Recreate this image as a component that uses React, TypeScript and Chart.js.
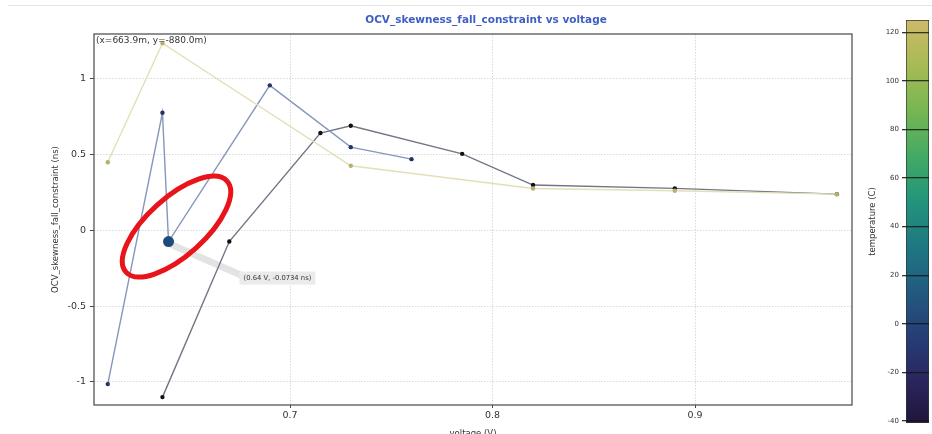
import React, { useEffect, useRef } from 'react';
import { Chart, registerables } from 'chart.js';

Chart.register(...registerables);

// ---------- data ----------
const titleText = 'OCV_skewness_fall_constraint vs voltage';
const xTitle = 'voltage (V)';
const yTitle = 'OCV_skewness_fall_constraint (ns)';
const cbTitle = 'temperature (C)';
const cursorText = '(x=663.9m, y=-880.0m)';

const xTicks = [0.7, 0.8, 0.9];
const yTicks = [-1, -0.5, 0, 0.5, 1];
const cbTicks = [-40, -20, 0, 20, 40, 60, 80, 100, 120];
const xRange = [0.6032, 0.9775];
const yRange = [-1.152, 1.297];
const cbRange = [-40.8, 125];

// hot corner (yellow)
const hotV = [0.61, 0.637, 0.73, 0.82, 0.89, 0.97];
const hotY = [0.45, 1.236, 0.427, 0.277, 0.262, 0.24];
// mid (blue)
const midV = [0.61, 0.637, 0.64, 0.69, 0.73, 0.76];
const midY = [-1.014, 0.777, -0.0734, 0.958, 0.55, 0.471];
// cold (dark)
const coldV = [0.637, 0.67, 0.715, 0.73, 0.785, 0.82, 0.89, 0.97];
const coldY = [-1.1, -0.073, 0.643, 0.691, 0.506, 0.3, 0.278, 0.24];
// selected point
const selV = [0.64];
const selY = [-0.0734];

const cmapStops = ['#21163a', '#2a2760', '#263f77', '#225c80', '#1f7982', '#23967a', '#45aa63', '#78b653', '#a8bb55', '#cdb96a'];

const FONT = 'DejaVu Sans';
const toPts = (xs: number[], ys: number[]) => xs.map((v, i) => ({ x: v, y: ys[i] }));

export default function App() {
  const mainRef = useRef<HTMLCanvasElement>(null);
  const cbRef = useRef<HTMLCanvasElement>(null);

  useEffect(() => {
    Chart.defaults.font.family = FONT;

    const decor = {
      id: 'decor',
      beforeDatasetsDraw(chart: any) {
        const { ctx, scales } = chart;
        const px = scales.x.getPixelForValue(selV[0]);
        const py = scales.y.getPixelForValue(selY[0]);
        ctx.save();
        ctx.strokeStyle = 'rgba(215,215,215,0.7)';
        ctx.lineWidth = 7;
        ctx.lineCap = 'round';
        ctx.beginPath();
        ctx.moveTo(px + 3, py + 3);
        ctx.lineTo(px + 78, py + 36);
        ctx.stroke();
        ctx.restore();
      },
      afterDatasetsDraw(chart: any) {
        const { ctx, scales } = chart;
        const px = scales.x.getPixelForValue(selV[0]);
        const py = scales.y.getPixelForValue(selY[0]);
        ctx.save();
        // tooltip box
        const label = `(${selV[0]} V, ${selY[0]} ns)`;
        ctx.font = `6.8px ${FONT}`;
        const tw = ctx.measureText(label).width;
        ctx.fillStyle = '#ebebeb';
        ctx.fillRect(px + 71, py + 30, tw + 8, 13);
        ctx.fillStyle = '#333';
        ctx.textAlign = 'left';
        ctx.textBaseline = 'middle';
        ctx.fillText(label, px + 75, py + 36.5);
        // red annotation ellipse
        ctx.strokeStyle = '#e8141a';
        ctx.lineWidth = 5;
        ctx.beginPath();
        ctx.ellipse(px + 8, py - 15, 68, 29, (-42 * Math.PI) / 180, 0, Math.PI * 2);
        ctx.stroke();
        ctx.restore();
      },
      afterDraw(chart: any) {
        const { ctx, chartArea } = chart;
        ctx.save();
        // frame
        ctx.strokeStyle = '#555';
        ctx.lineWidth = 1.3;
        ctx.strokeRect(chartArea.left, chartArea.top, chartArea.right - chartArea.left, chartArea.bottom - chartArea.top);
        // top separator
        ctx.strokeStyle = '#e4e4e4';
        ctx.lineWidth = 1;
        ctx.beginPath();
        ctx.moveTo(8, 5.5);
        ctx.lineTo(932, 5.5);
        ctx.stroke();
        // title
        ctx.fillStyle = '#3f5fc4';
        ctx.font = `bold 10.5px ${FONT}`;
        ctx.textAlign = 'center';
        ctx.textBaseline = 'middle';
        ctx.fillText(titleText, 486, 20);
        // cursor text
        ctx.fillStyle = '#333';
        ctx.font = `9px ${FONT}`;
        ctx.textAlign = 'left';
        ctx.fillText(cursorText, chartArea.left + 2, chartArea.top + 7);
        ctx.restore();
      },
    };

    const tickFont = { size: 9.5, family: FONT };
    const main = new Chart(mainRef.current!, {
      type: 'scatter',
      data: {
        datasets: [
          {
            data: toPts(selV, selY),
            pointRadius: 5.5,
            pointBackgroundColor: '#1f4a7c',
            pointBorderWidth: 0,
            showLine: false,
          },
          {
            data: toPts(hotV, hotY),
            showLine: true,
            borderColor: '#e3dfb8',
            borderWidth: 1.4,
            pointRadius: 2.2,
            pointBackgroundColor: '#b5b070',
            pointBorderWidth: 0,
          },
          {
            data: toPts(midV, midY),
            showLine: true,
            borderColor: '#8697bb',
            borderWidth: 1.4,
            pointRadius: 2.2,
            pointBackgroundColor: '#1f3566',
            pointBorderWidth: 0,
          },
          {
            data: toPts(coldV, coldY),
            showLine: true,
            borderColor: '#727584',
            borderWidth: 1.4,
            pointRadius: 2.2,
            pointBackgroundColor: '#111',
            pointBorderWidth: 0,
          },
        ],
      },
      options: {
        responsive: false,
        animation: false,
        layout: { padding: { left: 0, top: 34, right: 80, bottom: 0 } },
        plugins: { legend: { display: false }, tooltip: { enabled: false }, title: { display: false } },
        scales: {
          x: {
            type: 'linear',
            min: xRange[0],
            max: xRange[1],
            afterFit: (s: any) => { s.height = 35; },
            afterBuildTicks: (s: any) => { s.ticks = xTicks.map((v) => ({ value: v })); },
            ticks: { font: tickFont, color: '#333', padding: 2, maxRotation: 0, callback: (v: any) => String(v) },
            grid: { color: '#d9d9d9', tickColor: '#444', tickLength: 3, lineWidth: 1 },
            border: { display: false, dash: [1.5, 1.5] },
            title: { display: true, text: xTitle, font: { size: 8.5, family: FONT }, color: '#333', padding: { top: 0, bottom: 1.5 } },
          },
          y: {
            type: 'linear',
            min: yRange[0],
            max: yRange[1],
            afterFit: (s: any) => { s.width = 94; },
            afterBuildTicks: (s: any) => { s.ticks = yTicks.map((v) => ({ value: v })); },
            ticks: { font: tickFont, color: '#333', padding: 4, callback: (v: any) => String(v) },
            grid: { color: '#d9d9d9', tickColor: '#444', tickLength: 4, lineWidth: 1 },
            border: { display: false, dash: [1.5, 1.5] },
            title: { display: true, text: yTitle, font: { size: 8.5, family: FONT }, color: '#333', padding: { top: 50.9, bottom: 0 } },
          },
        },
      },
      plugins: [decor],
    } as any);

    const cb = new Chart(cbRef.current!, {
      type: 'bar',
      data: {
        labels: ['T'],
        datasets: [
          {
            data: [cbRange],
            backgroundColor: (c: any) => {
              const ch = c.chart;
              const ys = ch.scales && ch.scales.y;
              if (!ch.chartArea || !ys) return cmapStops[4];
              const g = ch.ctx.createLinearGradient(0, ys.getPixelForValue(cbRange[0]), 0, ys.getPixelForValue(cbRange[1]));
              cmapStops.forEach((col, i) => g.addColorStop(i / (cmapStops.length - 1), col));
              return g;
            },
            borderColor: '#333',
            borderWidth: 1,
            borderSkipped: false,
            barPercentage: 1,
            categoryPercentage: 1,
          },
        ],
      },
      options: {
        responsive: false,
        animation: false,
        layout: { padding: { left: 0, top: 20, right: 3, bottom: 11 } },
        plugins: { legend: { display: false }, tooltip: { enabled: false } },
        scales: {
          x: { display: false },
          y: {
            min: cbRange[0],
            max: cbRange[1],
            afterFit: (s: any) => { s.width = 50; },
            afterBuildTicks: (s: any) => { s.ticks = cbTicks.map((v) => ({ value: v })); },
            ticks: { font: { size: 7, family: FONT }, color: '#333', padding: 3, callback: (v: any) => String(v) },
            grid: { color: 'rgba(20,20,20,0.8)', tickColor: '#333', tickLength: 4, lineWidth: 1.3, z: 1 },
            border: { display: false },
            title: { display: true, text: cbTitle, font: { size: 8.5, family: FONT }, color: '#333', padding: { top: 11.9, bottom: 0 } },
          },
        },
      },
    } as any);

    return () => {
      main.destroy();
      cb.destroy();
    };
  }, []);

  return (
    <div style={{ position: 'fixed', left: 0, top: 0, width: 932, height: 434, overflow: 'hidden', background: '#fff' }}>
      <canvas ref={mainRef} width={932} height={440} style={{ position: 'absolute', left: 0, top: 0 }} />
      <canvas ref={cbRef} width={76} height={434} style={{ position: 'absolute', left: 856, top: 0 }} />
    </div>
  );
}
